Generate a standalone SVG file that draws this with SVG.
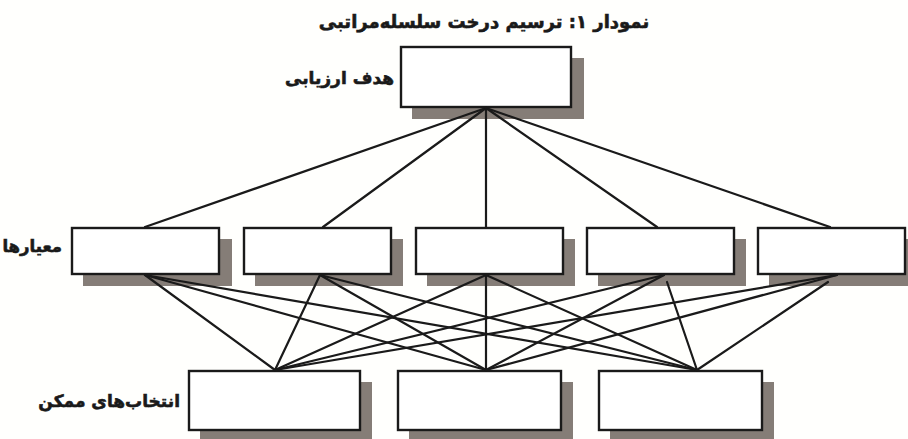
<svg xmlns="http://www.w3.org/2000/svg" width="908" height="439" viewBox="0 0 908 439">
<style>
.bg{fill:#fffffd}
.sh{fill:#857d77}
.bx{fill:#ffffff;stroke:#1a1a1a;stroke-width:2.4}
.cn line{stroke:#1a1a1a;stroke-width:2.2;stroke-linecap:round}
.t{font-family:"DejaVu Sans","Noto Sans",sans-serif;font-weight:bold;fill:#1a1a1a;stroke:#1a1a1a;stroke-width:0.6}
</style>
<rect class="bg" x="0" y="0" width="908" height="439"/>
<text class="t" x="484" y="28" font-size="18" text-anchor="middle" direction="rtl">نمودار ۱: ترسیم درخت سلسله‌مراتبی</text>

<g id="goal">
<rect class="sh" x="412" y="58" width="172" height="61"/>
<rect class="bx" x="401" y="47" width="170" height="60"/>
<text class="t" x="394" y="84" font-size="17" text-anchor="end">هدف ارزیابی</text>
</g>

<g id="c1">
<rect class="sh" x="83" y="239" width="149" height="47"/>
<rect class="bx" x="72" y="228" width="147" height="46"/>
<text class="t" x="62" y="252" font-size="16.5" text-anchor="end">معیارها</text>
</g>
<g id="c2">
<rect class="sh" x="255" y="239" width="148" height="47"/>
<rect class="bx" x="244" y="228" width="147" height="46"/>
</g>
<g id="c3">
<rect class="sh" x="427" y="239" width="148" height="47"/>
<rect class="bx" x="416" y="228" width="147" height="46"/>
</g>
<g id="c4">
<rect class="sh" x="598" y="239" width="148" height="47"/>
<rect class="bx" x="587" y="228" width="147" height="46"/>
</g>
<g id="c5">
<rect class="sh" x="769" y="239" width="148" height="47"/>
<rect class="bx" x="758" y="228" width="147" height="46"/>
</g>

<g id="a1">
<rect class="sh" x="200" y="382" width="172" height="60"/>
<rect class="bx" x="189" y="371" width="171" height="59"/>
<text class="t" x="180" y="407" font-size="17" text-anchor="end">انتخاب‌های ممکن</text>
</g>
<g id="a2">
<rect class="sh" x="409" y="382" width="164" height="60"/>
<rect class="bx" x="398" y="371" width="163" height="59"/>
</g>
<g id="a3">
<rect class="sh" x="610" y="382" width="164" height="60"/>
<rect class="bx" x="599" y="371" width="163" height="59"/>
</g>

<g id="connectors" class="cn">
<line x1="486" y1="108" x2="145" y2="227"/>
<line x1="486" y1="108" x2="323" y2="227"/>
<line x1="486" y1="108" x2="486" y2="227"/>
<line x1="486" y1="108" x2="657" y2="227"/>
<line x1="486" y1="108" x2="830" y2="227"/>

<line x1="145" y1="275" x2="275" y2="370"/>
<line x1="145" y1="275" x2="486" y2="370"/>
<line x1="145" y1="275" x2="697" y2="370"/>
<line x1="320" y1="275" x2="275" y2="370"/>
<line x1="320" y1="275" x2="486" y2="370"/>
<line x1="320" y1="275" x2="697" y2="370"/>
<line x1="486" y1="275" x2="275" y2="370"/>
<line x1="486" y1="275" x2="486" y2="370"/>
<line x1="486" y1="275" x2="697" y2="370"/>
<line x1="664" y1="275" x2="275" y2="370"/>
<line x1="664" y1="275" x2="486" y2="370"/>
<line x1="667" y1="282" x2="697" y2="370"/>
<line x1="837" y1="275" x2="275" y2="370"/>
<line x1="837" y1="275" x2="486" y2="370"/>
<line x1="828" y1="282" x2="697" y2="370"/>
</g>
</svg>
